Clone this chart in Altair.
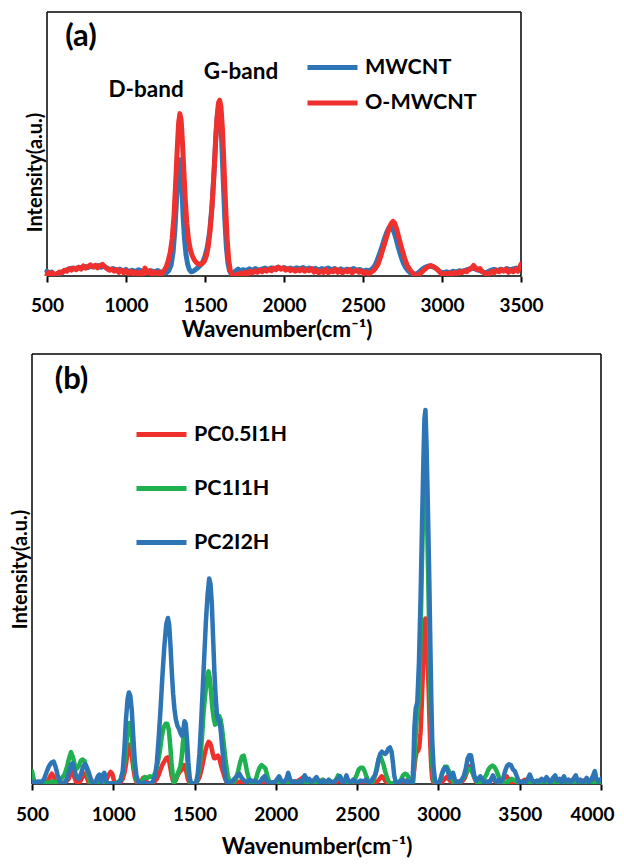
import altair as alt
import pandas as pd

BLUE = "#2E75B6"
RED = "#F0302C"
GREEN = "#1FB050"
FONT = "Lato"

# ---------------- panel (a) ----------------
a_names = ["MWCNT", "O-MWCNT"]
a_ticks = [500, 1000, 1500, 2000, 2500, 3000, 3500]
a_frame_x = [500, 3500]
a_scale_domain = [405, 3500]

a_mwcnt_x = [500, 515, 530, 545, 560, 575, 590, 605, 620, 640, 660, 680, 700, 720, 740, 760, 780, 800, 820, 840,
             860, 880, 900, 920, 940, 960, 980, 1000, 1020, 1040, 1060, 1080, 1100, 1120, 1140, 1160, 1180, 1200,
             1220, 1240, 1255, 1270, 1285, 1298, 1310, 1320, 1330, 1338, 1346, 1354, 1362, 1370, 1380, 1390, 1400,
             1412, 1425, 1440, 1455, 1470, 1485, 1500, 1515, 1530, 1545, 1558, 1570, 1580, 1588, 1596, 1605, 1615,
             1625, 1635, 1645, 1655, 1665, 1680, 1695, 1710, 1725, 1740, 1760, 1780, 1800, 1820, 1840, 1860, 1880,
             1900, 1920, 1940, 1960, 1980, 2000, 2020, 2040, 2060, 2080, 2100, 2120, 2140, 2160, 2180, 2200, 2220,
             2240, 2260, 2280, 2300, 2320, 2340, 2360, 2380, 2400, 2420, 2440, 2460, 2480, 2500, 2520, 2540, 2560,
             2575, 2590, 2605, 2620, 2635, 2650, 2663, 2675, 2688, 2700, 2712, 2725, 2740, 2755, 2770, 2785, 2800,
             2815, 2830, 2845, 2860, 2875, 2890, 2905, 2920, 2935, 2950, 2965, 2980, 2995, 3010, 3030, 3050, 3070,
             3090, 3110, 3130, 3150, 3170, 3190, 3210, 3230, 3250, 3270, 3290, 3310, 3330, 3350, 3370, 3390, 3410,
             3430, 3450, 3470, 3485, 3500]
a_mwcnt_y = [0.018, 0.012, 0.015, 0.004, 0.0, 0.006, 0.014, 0.018, 0.022, 0.026, 0.03, 0.027, 0.033, 0.03, 0.036,
             0.032, 0.038, 0.034, 0.04, 0.033, 0.037, 0.03, 0.024, 0.028, 0.02, 0.026, 0.018, 0.025, 0.016, 0.022,
             0.017, 0.024, 0.018, 0.022, 0.012, 0.02, 0.015, 0.021, 0.014, 0.018, 0.012, 0.02, 0.04, 0.09, 0.18,
             0.29, 0.39, 0.44, 0.42, 0.33, 0.22, 0.14, 0.08, 0.045, 0.025, 0.016, 0.018, 0.024, 0.032, 0.04, 0.052,
             0.075, 0.11, 0.17, 0.27, 0.4, 0.54, 0.62, 0.638, 0.61, 0.52, 0.37, 0.22, 0.11, 0.05, 0.02, 0.01, 0.012,
             0.02, 0.026, 0.018, 0.024, 0.02, 0.027, 0.022, 0.028, 0.021, 0.026, 0.03, 0.024, 0.031, 0.027, 0.033,
             0.028, 0.032, 0.026, 0.03, 0.025, 0.031, 0.027, 0.032, 0.026, 0.03, 0.024, 0.029, 0.022, 0.028, 0.025,
             0.03, 0.024, 0.028, 0.022, 0.027, 0.021, 0.026, 0.023, 0.028, 0.022, 0.025, 0.018, 0.022, 0.02, 0.028,
             0.04, 0.06, 0.085, 0.11, 0.14, 0.165, 0.182, 0.186, 0.178, 0.16, 0.135, 0.105, 0.075, 0.05, 0.032, 0.02,
             0.012, 0.008, 0.006, 0.01, 0.018, 0.026, 0.032, 0.036, 0.038, 0.036, 0.033, 0.028, 0.02, 0.014, 0.012,
             0.016, 0.012, 0.018, 0.015, 0.02, 0.017, 0.022, 0.026, 0.03, 0.027, 0.022, 0.018, 0.012, 0.016, 0.022,
             0.025, 0.02, 0.026, 0.022, 0.028, 0.024, 0.027, 0.03, 0.026, 0.032]

a_omwcnt_x = [500, 510, 520, 535, 550, 565, 580, 595, 610, 625, 640, 655, 670, 685, 700, 715, 730, 745, 760, 775,
              790, 805, 820, 835, 850, 865, 880, 895, 910, 925, 940, 955, 970, 985, 1000, 1015, 1030, 1045, 1060,
              1075, 1090, 1105, 1120, 1135, 1150, 1165, 1180, 1195, 1210, 1225, 1240, 1255, 1268, 1280, 1292, 1304,
              1314, 1324, 1333, 1341, 1349, 1357, 1366, 1375, 1385, 1395, 1407, 1420, 1435, 1450, 1465, 1480, 1495,
              1508, 1520, 1532, 1544, 1555, 1566, 1576, 1585, 1593, 1601, 1610, 1620, 1630, 1640, 1650, 1660, 1672,
              1685, 1700, 1712, 1725, 1740, 1755, 1770, 1785, 1800, 1815, 1830, 1845, 1860, 1875, 1890, 1905, 1920,
              1935, 1950, 1965, 1980, 1995, 2010, 2025, 2040, 2055, 2070, 2085, 2100, 2115, 2130, 2145, 2160, 2175,
              2190, 2205, 2220, 2235, 2250, 2265, 2280, 2295, 2310, 2325, 2340, 2355, 2370, 2385, 2400, 2415, 2430,
              2445, 2460, 2475, 2490, 2505, 2520, 2535, 2550, 2565, 2580, 2595, 2610, 2625, 2640, 2655, 2668, 2680,
              2690, 2700, 2712, 2725, 2738, 2752, 2766, 2780, 2795, 2810, 2825, 2840, 2855, 2870, 2885, 2900, 2915,
              2930, 2945, 2960, 2975, 2990, 3005, 3020, 3035, 3050, 3065, 3080, 3095, 3110, 3125, 3140, 3155, 3170,
              3185, 3200, 3212, 3225, 3240, 3255, 3270, 3285, 3300, 3315, 3330, 3345, 3360, 3375, 3390, 3405, 3420,
              3435, 3450, 3465, 3480, 3490, 3500]
a_omwcnt_y = [0.004, 0.014, 0.006, 0.012, 0.002, 0.01, 0.015, 0.012, 0.022, 0.018, 0.028, 0.022, 0.03, 0.024,
              0.033, 0.026, 0.038, 0.03, 0.036, 0.042, 0.034, 0.04, 0.031, 0.039, 0.044, 0.035, 0.028, 0.022, 0.026,
              0.018, 0.024, 0.014, 0.022, 0.012, 0.02, 0.01, 0.018, 0.008, 0.016, 0.006, 0.014, 0.004, 0.03, 0.012,
              0.02, 0.006, 0.016, 0.008, 0.014, 0.006, 0.02, 0.035, 0.06, 0.09, 0.14, 0.23, 0.35, 0.48, 0.58, 0.615,
              0.59, 0.51, 0.4, 0.29, 0.2, 0.14, 0.1, 0.075, 0.058, 0.048, 0.044, 0.046, 0.055, 0.075, 0.11, 0.17,
              0.26, 0.37, 0.5, 0.6, 0.655, 0.666, 0.64, 0.56, 0.42, 0.27, 0.14, 0.06, 0.02, 0.005, 0.0, 0.006, 0.0,
              0.012, 0.002, 0.014, 0.008, 0.018, 0.012, 0.02, 0.014, 0.022, 0.016, 0.024, 0.018, 0.026, 0.02, 0.03,
              0.024, 0.034, 0.026, 0.03, 0.022, 0.028, 0.02, 0.026, 0.018, 0.024, 0.02, 0.027, 0.018, 0.024, 0.02,
              0.028, 0.015, 0.022, 0.012, 0.02, 0.014, 0.024, 0.012, 0.02, 0.016, 0.026, 0.014, 0.022, 0.012, 0.02,
              0.016, 0.024, 0.012, 0.018, 0.022, 0.014, 0.02, 0.01, 0.016, 0.008, 0.014, 0.02, 0.03, 0.045, 0.07,
              0.1, 0.13, 0.16, 0.185, 0.2, 0.207, 0.2, 0.18, 0.15, 0.12, 0.09, 0.062, 0.04, 0.025, 0.014, 0.006, 0.0,
              0.006, 0.014, 0.022, 0.03, 0.036, 0.04, 0.036, 0.03, 0.022, 0.012, 0.004, 0.01, 0.004, 0.012, 0.006,
              0.014, 0.01, 0.016, 0.012, 0.02, 0.016, 0.024, 0.028, 0.04, 0.03, 0.024, 0.028, 0.016, 0.012, 0.004,
              0.01, 0.018, 0.012, 0.022, 0.016, 0.024, 0.018, 0.026, 0.014, 0.022, 0.016, 0.026, 0.018, 0.03, 0.045]

a_labels = ["(a)", "D-band", "G-band"]
a_label_x = [715, 1127, 1728]
a_label_y = [0.907, 0.705, 0.771]
a_label_size = [31, 22.5, 22.5]

# ---------------- panel (b) ----------------
b_names = ["PC0.5I1H", "PC1I1H", "PC2I2H"]
b_ticks = [500, 1000, 1500, 2000, 2500, 3000, 3500, 4000]
b_frame_x = [500, 4000]
b_scale_domain = [500, 4000]

b_pc05_x = [500, 530, 560, 585, 600, 612, 622, 632, 645, 660, 690, 710, 725, 738, 748, 758, 770, 785, 800, 812, 824,
            836, 848, 865, 885, 905, 925, 945, 960, 972, 984, 994, 1004, 1015, 1030, 1045, 1058, 1068, 1078, 1088,
            1097, 1106, 1115, 1124, 1133, 1145, 1160, 1172, 1184, 1196, 1208, 1222, 1240, 1255, 1268, 1280, 1292,
            1304, 1316, 1326, 1334, 1342, 1350, 1358, 1366, 1376, 1388, 1398, 1408, 1418, 1428, 1436, 1444, 1452,
            1460, 1470, 1485, 1505, 1520, 1532, 1544, 1556, 1566, 1576, 1586, 1596, 1604, 1612, 1620, 1628, 1636,
            1644, 1652, 1660, 1668, 1678, 1690, 1702, 1720, 1740, 1760, 1780, 1800, 1820, 1840, 1860, 1880, 1900,
            1920, 1940, 1960, 1980, 2000, 2020, 2040, 2060, 2080, 2100, 2120, 2140, 2155, 2170, 2186, 2200, 2215,
            2230, 2250, 2270, 2289, 2305, 2320, 2340, 2360, 2380, 2393, 2410, 2430, 2450, 2470, 2490, 2510, 2530,
            2550, 2570, 2590, 2610, 2625, 2638, 2650, 2660, 2672, 2685, 2700, 2720, 2740, 2760, 2780, 2800, 2815,
            2830, 2842, 2850, 2858, 2866, 2874, 2882, 2890, 2898, 2906, 2914, 2920, 2926, 2932, 2938, 2944, 2950,
            2956, 2962, 2972, 2990, 3005, 3020, 3035, 3050, 3062, 3075, 3090, 3105, 3120, 3135, 3150, 3162, 3174,
            3186, 3196, 3206, 3216, 3228, 3240, 3255, 3270, 3285, 3300, 3320, 3336, 3350, 3365, 3380, 3395, 3410,
            3420, 3430, 3442, 3455, 3470, 3490, 3510, 3530, 3550, 3570, 3590, 3610, 3630, 3650, 3670, 3690, 3710,
            3730, 3750, 3770, 3790, 3810, 3830, 3850, 3870, 3890, 3910, 3930, 3950, 3970, 3990, 4000]
b_pc05_y = [0.0, 0.002, 0.0, 0.004, 0.008, 0.018, 0.024, 0.018, 0.004, 0.0, 0.002, 0.006, 0.012, 0.024, 0.028,
            0.018, 0.006, 0.002, 0.008, 0.018, 0.024, 0.016, 0.004, 0.0, 0.002, 0.0, 0.002, 0.006, 0.012, 0.022,
            0.028, 0.024, 0.008, 0.002, 0.0, 0.004, 0.012, 0.025, 0.045, 0.075, 0.092, 0.085, 0.062, 0.035, 0.014,
            0.002, 0.0, 0.006, 0.014, 0.01, 0.004, 0.0, 0.002, 0.006, 0.012, 0.022, 0.035, 0.046, 0.054, 0.06,
            0.062, 0.056, 0.04, 0.022, 0.008, 0.004, 0.012, 0.022, 0.028, 0.032, 0.038, 0.044, 0.038, 0.024, 0.01,
            0.002, 0.0, 0.002, 0.008, 0.018, 0.036, 0.058, 0.076, 0.09, 0.098, 0.095, 0.085, 0.07, 0.06, 0.06,
            0.064, 0.066, 0.06, 0.048, 0.036, 0.024, 0.01, 0.002, 0.0, 0.004, 0.002, 0.006, 0.002, 0.004, 0.002,
            0.006, 0.002, 0.004, 0.002, 0.006, 0.002, 0.004, 0.002, 0.006, 0.002, 0.004, 0.002, 0.006, 0.004,
            0.008, 0.012, 0.016, 0.014, 0.006, 0.002, 0.004, 0.002, 0.006, 0.01, 0.004, 0.002, 0.004, 0.002, 0.006,
            0.008, 0.002, 0.004, 0.002, 0.006, 0.002, 0.004, 0.002, 0.004, 0.002, 0.004, 0.002, 0.006, 0.012,
            0.018, 0.016, 0.008, 0.002, 0.0, 0.002, 0.004, 0.002, 0.006, 0.008, 0.004, 0.002, 0.0, 0.03, 0.06,
            0.074, 0.077, 0.085, 0.12, 0.19, 0.28, 0.36, 0.385, 0.36, 0.3, 0.24, 0.16, 0.09, 0.04, 0.012, 0.0,
            0.002, 0.0, 0.004, 0.01, 0.016, 0.012, 0.006, 0.004, 0.002, 0.006, 0.004, 0.008, 0.014, 0.026, 0.04,
            0.042, 0.034, 0.02, 0.008, 0.002, 0.006, 0.01, 0.004, 0.002, 0.008, 0.012, 0.006, 0.002, 0.006, 0.01,
            0.016, 0.018, 0.012, 0.004, 0.0, 0.004, 0.008, 0.004, 0.01, 0.006, 0.002, 0.006, 0.004, 0.01, 0.006,
            0.012, 0.004, 0.008, 0.004, 0.006, 0.01, 0.004, 0.008, 0.004, 0.006, 0.002, 0.008, 0.004, 0.006, 0.01,
            0.004, 0.008, 0.01]

b_pc1_x = [500, 510, 520, 540, 560, 580, 600, 620, 640, 660, 680, 700, 714, 728, 740, 752, 764, 776, 788, 800, 810,
           822, 834, 846, 858, 870, 890, 910, 930, 950, 970, 990, 1010, 1030, 1045, 1060, 1072, 1082, 1092, 1098,
           1106, 1114, 1122, 1130, 1140, 1152, 1165, 1180, 1194, 1210, 1224, 1238, 1250, 1262, 1274, 1286, 1298,
           1310, 1322, 1332, 1342, 1350, 1358, 1366, 1374, 1382, 1392, 1402, 1412, 1420, 1428, 1436, 1444, 1452,
           1460, 1468, 1478, 1495, 1510, 1522, 1534, 1546, 1556, 1566, 1576, 1586, 1594, 1602, 1610, 1618, 1626,
           1634, 1642, 1652, 1660, 1668, 1676, 1684, 1694, 1704, 1715, 1728, 1742, 1755, 1768, 1780, 1792, 1802,
           1812, 1822, 1834, 1846, 1860, 1875, 1888, 1900, 1912, 1924, 1936, 1948, 1960, 1975, 1990, 2010, 2030,
           2050, 2070, 2090, 2110, 2130, 2150, 2170, 2190, 2210, 2230, 2250, 2270, 2290, 2305, 2320, 2340, 2355,
           2370, 2383, 2396, 2410, 2425, 2440, 2455, 2470, 2485, 2498, 2510, 2522, 2534, 2546, 2558, 2570, 2585,
           2600, 2612, 2624, 2636, 2644, 2652, 2662, 2672, 2684, 2696, 2710, 2725, 2740, 2755, 2770, 2782, 2794,
           2806, 2818, 2830, 2842, 2850, 2858, 2866, 2874, 2882, 2890, 2898, 2906, 2914, 2920, 2926, 2932, 2938,
           2944, 2950, 2956, 2962, 2970, 2980, 2995, 3010, 3020, 3030, 3040, 3052, 3064, 3076, 3088, 3100, 3115,
           3130, 3145, 3160, 3175, 3188, 3200, 3212, 3225, 3238, 3250, 3265, 3280, 3295, 3308, 3320, 3332, 3344,
           3356, 3368, 3380, 3395, 3410, 3430, 3450, 3470, 3490, 3510, 3530, 3550, 3570, 3590, 3610, 3630, 3650,
           3670, 3690, 3710, 3730, 3750, 3770, 3790, 3810, 3830, 3850, 3870, 3890, 3910, 3930, 3950, 3970, 3990,
           4000]
b_pc1_y = [0.03, 0.012, 0.0, 0.002, 0.0, 0.004, 0.002, 0.006, 0.004, 0.006, 0.012, 0.022, 0.038, 0.06, 0.074,
           0.062, 0.043, 0.036, 0.042, 0.054, 0.057, 0.054, 0.04, 0.018, 0.004, 0.0, 0.002, 0.0, 0.004, 0.0, 0.002,
           0.0, 0.002, 0.004, 0.01, 0.028, 0.06, 0.1, 0.135, 0.142, 0.132, 0.11, 0.07, 0.035, 0.012, 0.0, 0.004,
           0.008, 0.016, 0.014, 0.018, 0.016, 0.02, 0.03, 0.05, 0.075, 0.11, 0.132, 0.14, 0.14, 0.125, 0.09, 0.05,
           0.02, 0.002, 0.008, 0.02, 0.03, 0.04, 0.06, 0.095, 0.12, 0.11, 0.075, 0.035, 0.01, 0.0, 0.0, 0.004,
           0.02, 0.05, 0.11, 0.17, 0.21, 0.245, 0.262, 0.245, 0.21, 0.175, 0.152, 0.138, 0.14, 0.15, 0.158, 0.15,
           0.132, 0.105, 0.078, 0.045, 0.02, 0.004, 0.0, 0.004, 0.012, 0.03, 0.05, 0.064, 0.066, 0.05, 0.03, 0.012,
           0.002, 0.0, 0.008, 0.026, 0.038, 0.044, 0.04, 0.036, 0.018, 0.004, 0.0, 0.004, 0.002, 0.006, 0.002,
           0.004, 0.002, 0.006, 0.002, 0.004, 0.002, 0.006, 0.002, 0.004, 0.002, 0.006, 0.01, 0.004, 0.002, 0.006,
           0.004, 0.01, 0.02, 0.016, 0.006, 0.004, 0.002, 0.0, 0.004, 0.01, 0.022, 0.034, 0.038, 0.038, 0.03,
           0.016, 0.004, 0.0, 0.008, 0.022, 0.045, 0.062, 0.064, 0.055, 0.045, 0.03, 0.014, 0.004, 0.0, 0.002,
           0.0, 0.004, 0.01, 0.02, 0.024, 0.022, 0.014, 0.004, 0.0, 0.04, 0.1, 0.15, 0.17, 0.22, 0.34, 0.5, 0.63,
           0.71, 0.73, 0.68, 0.58, 0.46, 0.34, 0.22, 0.12, 0.05, 0.015, 0.0, 0.002, 0.008, 0.02, 0.032, 0.04, 0.04,
           0.03, 0.02, 0.008, 0.002, 0.0, 0.004, 0.01, 0.018, 0.028, 0.035, 0.034, 0.024, 0.012, 0.004, 0.002,
           0.006, 0.012, 0.022, 0.034, 0.04, 0.043, 0.04, 0.032, 0.02, 0.008, 0.0, 0.002, 0.006, 0.012, 0.008,
           0.004, 0.0, 0.004, 0.002, 0.006, 0.002, 0.004, 0.002, 0.006, 0.004, 0.008, 0.002, 0.004, 0.002, 0.006,
           0.004, 0.002, 0.006, 0.004, 0.008, 0.002, 0.004, 0.006, 0.002, 0.004, 0.002, 0.004]

b_pc2_x = [500, 520, 540, 560, 575, 590, 605, 620, 633, 645, 658, 670, 685, 700, 715, 728, 740, 750, 762, 775, 788,
           800, 814, 826, 838, 850, 862, 875, 890, 905, 915, 925, 935, 945, 955, 970, 990, 1010, 1030, 1045, 1058,
           1068, 1078, 1088, 1096, 1105, 1114, 1123, 1132, 1142, 1155, 1170, 1190, 1210, 1230, 1245, 1258, 1268,
           1278, 1290, 1302, 1314, 1326, 1336, 1344, 1352, 1360, 1368, 1376, 1385, 1395, 1405, 1414, 1422, 1430,
           1438, 1446, 1454, 1462, 1470, 1480, 1495, 1510, 1520, 1530, 1540, 1550, 1560, 1570, 1580, 1590, 1598,
           1606, 1614, 1622, 1630, 1638, 1646, 1654, 1662, 1670, 1680, 1690, 1700, 1715, 1730, 1745, 1760, 1775,
           1790, 1805, 1820, 1840, 1855, 1870, 1885, 1900, 1915, 1930, 1945, 1960, 1975, 1990, 2005, 2020, 2035,
           2050, 2065, 2076, 2088, 2100, 2115, 2130, 2145, 2160, 2178, 2190, 2205, 2220, 2235, 2250, 2265, 2280,
           2295, 2310, 2325, 2340, 2355, 2370, 2385, 2395, 2405, 2420, 2434, 2445, 2460, 2475, 2490, 2505, 2520,
           2540, 2555, 2570, 2585, 2598, 2610, 2622, 2632, 2642, 2652, 2662, 2672, 2682, 2692, 2702, 2712, 2720,
           2728, 2738, 2750, 2765, 2780, 2795, 2810, 2825, 2840, 2847, 2852, 2860, 2870, 2880, 2890, 2900, 2908,
           2914, 2920, 2926, 2932, 2938, 2944, 2950, 2956, 2962, 2970, 2980, 2995, 3010, 3022, 3034, 3046, 3058,
           3068, 3080, 3090, 3100, 3112, 3125, 3140, 3155, 3168, 3180, 3190, 3200, 3210, 3220, 3232, 3245, 3258,
           3270, 3285, 3300, 3315, 3325, 3336, 3348, 3360, 3372, 3385, 3398, 3410, 3422, 3434, 3446, 3458, 3470,
           3482, 3494, 3505, 3520, 3535, 3550, 3562, 3575, 3590, 3605, 3620, 3635, 3650, 3665, 3678, 3690, 3705,
           3718, 3730, 3745, 3758, 3772, 3785, 3800, 3815, 3830, 3845, 3858, 3872, 3885, 3900, 3912, 3925, 3940,
           3952, 3962, 3972, 3985, 4000]
b_pc2_y = [0.005, 0.004, 0.006, 0.005, 0.012, 0.028, 0.042, 0.05, 0.052, 0.04, 0.02, 0.006, 0.0, 0.002, 0.012,
           0.028, 0.045, 0.048, 0.032, 0.014, 0.012, 0.022, 0.04, 0.046, 0.038, 0.026, 0.012, 0.002, 0.004, 0.018,
           0.022, 0.004, 0.02, 0.026, 0.008, 0.0, 0.002, 0.0, 0.002, 0.008, 0.03, 0.08, 0.15, 0.198, 0.213, 0.205,
           0.17, 0.11, 0.055, 0.02, 0.003, 0.0, 0.004, 0.0, 0.002, 0.006, 0.02, 0.05, 0.1, 0.17, 0.25, 0.32, 0.372,
           0.386, 0.37, 0.32, 0.26, 0.21, 0.175, 0.15, 0.135, 0.128, 0.118, 0.112, 0.125, 0.146, 0.14, 0.1, 0.05,
           0.015, 0.0, 0.0, 0.004, 0.025, 0.07, 0.14, 0.22, 0.3, 0.38, 0.44, 0.478, 0.465, 0.42, 0.34, 0.26, 0.2,
           0.16, 0.148, 0.148, 0.12, 0.085, 0.045, 0.015, 0.002, 0.0, 0.006, 0.012, 0.018, 0.024, 0.014, 0.008,
           0.004, 0.01, 0.006, 0.008, 0.004, 0.002, 0.012, 0.018, 0.006, 0.002, 0.004, 0.002, 0.01, 0.018, 0.006,
           0.004, 0.012, 0.026, 0.01, 0.004, 0.006, 0.002, 0.008, 0.004, 0.02, 0.008, 0.012, 0.004, 0.01, 0.016,
           0.006, 0.004, 0.008, 0.003, 0.01, 0.005, 0.004, 0.008, 0.014, 0.018, 0.006, 0.004, 0.02, 0.008, 0.004,
           0.01, 0.006, 0.004, 0.008, 0.006, 0.01, 0.004, 0.006, 0.014, 0.02, 0.035, 0.058, 0.07, 0.075, 0.072,
           0.07, 0.074, 0.082, 0.085, 0.075, 0.05, 0.02, 0.004, 0.0, 0.006, 0.01, 0.004, 0.008, 0.002, 0.0, 0.06,
           0.13, 0.175, 0.19, 0.28, 0.43, 0.62, 0.76, 0.85, 0.87, 0.8, 0.7, 0.59, 0.47, 0.33, 0.2, 0.1, 0.04,
           0.005, 0.0, 0.006, 0.025, 0.035, 0.038, 0.03, 0.014, 0.018, 0.026, 0.012, 0.002, 0.004, 0.008, 0.018,
           0.035, 0.06, 0.067, 0.067, 0.045, 0.02, 0.008, 0.012, 0.018, 0.01, 0.004, 0.006, 0.004, 0.012, 0.02,
           0.008, 0.004, 0.01, 0.006, 0.012, 0.03, 0.042, 0.046, 0.044, 0.034, 0.03, 0.018, 0.006, 0.002, 0.006,
           0.004, 0.012, 0.022, 0.01, 0.004, 0.008, 0.006, 0.012, 0.006, 0.016, 0.008, 0.004, 0.014, 0.02, 0.008,
           0.012, 0.004, 0.018, 0.006, 0.01, 0.004, 0.012, 0.02, 0.006, 0.01, 0.004, 0.008, 0.014, 0.004, 0.01,
           0.02, 0.03, 0.012, 0.006, 0.012]

b_labels = ["(b)"]
b_label_x = [743]
b_label_y = [0.94]
b_label_size = [31]

X_TITLE = "Wavenumber(cm\u207b\u00b9)"
Y_TITLE = "Intensity(a.u.)"
LEGEND_SYMBOL = "M-2.5,0L2.5,0"


def series(xs, ys, name):
    return pd.DataFrame({"wn": xs, "intensity": ys, "sample": name})


def frame_box(x_lo, x_hi):
    # the four sides of the plot frame, in data units (x = domain ends, y = 0..1)
    return pd.DataFrame({
        "wn": [x_lo, x_lo, x_lo, x_hi],
        "wn2": [x_hi, x_hi, x_lo, x_hi],
        "intensity": [0, 1, 0, 0],
        "intensity2": [0, 1, 1, 1],
    })


def panel(frames, names, colors, scale_dom, frame_x, ticks, width, height, legend, yaxis, xaxis, ann, line_w):
    xenc = alt.X("wn:Q", scale=alt.Scale(domain=scale_dom, nice=False, zero=False),
                 axis=alt.Axis(values=ticks, format="d", title=X_TITLE, grid=False, domain=False,
                               labelFlush=False, labelOverlap=False,
                               tickSize=6, tickWidth=2, tickColor="black", **xaxis))
    yenc = alt.Y("intensity:Q", scale=alt.Scale(domain=[0, 1], nice=False, zero=False),
                 axis=alt.Axis(title=Y_TITLE, labels=False, ticks=False, domain=False, grid=False,
                               titleFontSize=20, **yaxis))
    cenc = alt.Color("sample:N", scale=alt.Scale(domain=names, range=colors),
                     legend=alt.Legend(title=None, orient="none", symbolType=LEGEND_SYMBOL, symbolSize=400,
                                       symbolStrokeWidth=5, labelFont=FONT, labelFontSize=21.5,
                                       labelFontWeight="bold", labelColor="black", padding=0,
                                       labelOffset=20, **legend))
    box = alt.Chart(frame_box(*frame_x)).mark_rule(color="black", strokeWidth=1.5).encode(
        x=xenc, x2="wn2:Q", y=yenc, y2="intensity2:Q")
    layers = [
        alt.Chart(df).mark_line(strokeWidth=line_w, strokeJoin="round", strokeCap="round", clip=True)
        .encode(x=xenc, y=yenc, color=cenc)
        for df in frames
    ]
    text = alt.Chart(ann).mark_text(font=FONT, fontWeight="bold", color="black", baseline="middle",
                                    align="center").encode(
        x=xenc, y=yenc, text="label:N", size=alt.Size("size:Q", scale=None, legend=None))
    return alt.layer(box, *layers, text).properties(width=width, height=height)


ann_a = pd.DataFrame({"wn": a_label_x, "intensity": a_label_y, "label": a_labels, "size": a_label_size})
ann_b = pd.DataFrame({"wn": b_label_x, "intensity": b_label_y, "label": b_labels, "size": b_label_size})

panel_a = panel(
    [series(a_mwcnt_x, a_mwcnt_y, a_names[0]), series(a_omwcnt_x, a_omwcnt_y, a_names[1])],
    a_names, [BLUE, RED], a_scale_domain, a_frame_x, a_ticks, 489, 264,
    legend=dict(legendX=288, legendY=43, rowPadding=12.5),
    yaxis=dict(titleX=13, titleY=160),
    xaxis=dict(labelPadding=14, titlePadding=3, labelFontSize=19, titleFontSize=22.5),
    ann=ann_a, line_w=5,
)

last_label_nudge = {"condition": {"test": "datum.value >= 4000", "value": -9}, "value": 0}

panel_b = panel(
    [series(b_pc05_x, b_pc05_y, b_names[0]), series(b_pc1_x, b_pc1_y, b_names[1]),
     series(b_pc2_x, b_pc2_y, b_names[2])],
    b_names, [RED, GREEN, BLUE], b_scale_domain, b_frame_x, b_ticks, 569, 430,
    legend=dict(legendX=117, legendY=68, rowPadding=31),
    yaxis=dict(titlePadding=2),
    xaxis=dict(labelPadding=15, titlePadding=11, labelFontSize=19, titleFontSize=22.5,
               labelOffset=last_label_nudge),
    ann=ann_b, line_w=4.5,
)

chart = (
    alt.vconcat(panel_a, panel_b, spacing=12)
    .resolve_scale(color="independent", x="independent", y="independent")
    .properties(padding={"left": 2, "top": 3, "right": 0, "bottom": 0}, background="white")
    .configure_view(stroke=None, strokeWidth=0)
    .configure_axis(labelFont=FONT, titleFont=FONT, labelFontWeight="bold", titleFontWeight="bold",
                    labelColor="black", titleColor="black")
)

chart.save("out.html", embed_options={"renderer": "svg", "actions": False})
